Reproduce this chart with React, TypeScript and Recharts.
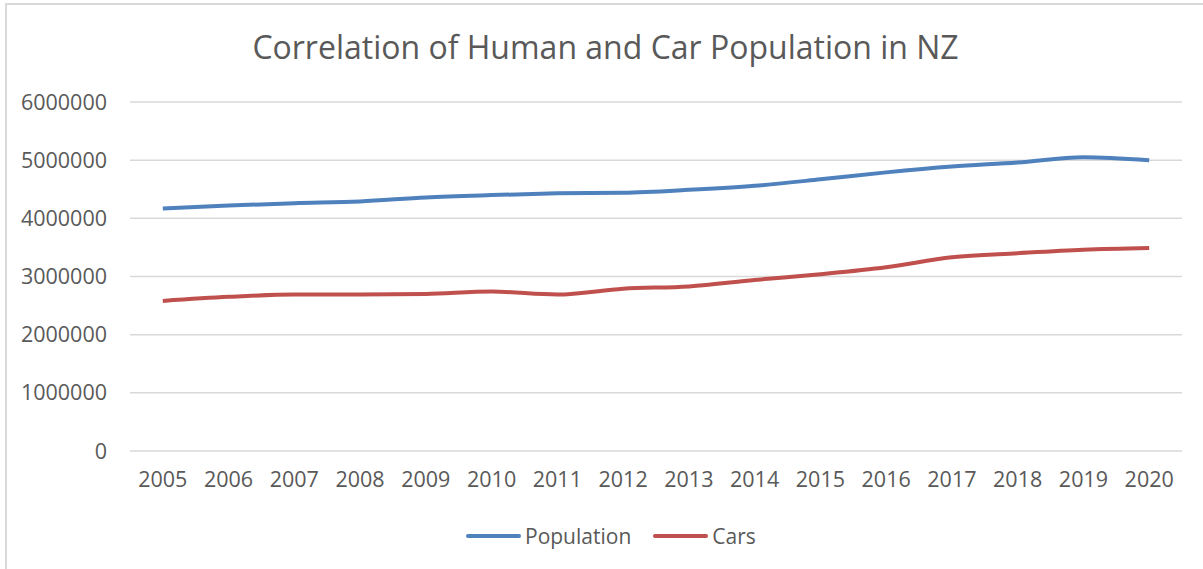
import React from "react";
import { LineChart, Line, XAxis, YAxis, CartesianGrid } from "recharts";

// Years on the category axis
const years = [
  "2005", "2006", "2007", "2008", "2009", "2010", "2011", "2012",
  "2013", "2014", "2015", "2016", "2017", "2018", "2019", "2020",
];

// Estimated resident population of New Zealand
const population = [
  4170000, 4220000, 4260000, 4290000, 4360000, 4400000, 4430000, 4440000,
  4490000, 4560000, 4670000, 4790000, 4890000, 4960000, 5050000, 5000000,
];

// Licensed light passenger vehicles
const cars = [
  2580000, 2650000, 2690000, 2690000, 2700000, 2740000, 2690000, 2790000,
  2830000, 2940000, 3040000, 3160000, 3330000, 3400000, 3460000, 3490000,
];

const yTicks = [0, 1000000, 2000000, 3000000, 4000000, 5000000, 6000000];

const series = [
  { key: "population", name: "Population", color: "#4F81BD" },
  { key: "cars", name: "Cars", color: "#C0504D" },
];

const data = years.map((year, i) => ({
  year,
  population: population[i],
  cars: cars[i],
}));

const FONT = "'Open Sans', sans-serif";
const TEXT = "#595959";

export default function App() {
  return (
    <div
      style={{
        position: "fixed",
        left: 0,
        top: 0,
        width: 1203,
        height: 569,
        background: "#ffffff",
        fontFamily: FONT,
        overflow: "hidden",
      }}
    >
      {/* chart frame */}
      <div
        style={{
          position: "absolute",
          left: 5,
          top: 3,
          width: 1300,
          height: 700,
          borderLeft: "2px solid #d9d9d9",
          borderTop: "2px solid #d9d9d9",
        }}
      />
      <div
        style={{
          position: "absolute",
          left: 0,
          width: 1203,
          top: 29,
          textAlign: "center",
          fontSize: 32,
          color: TEXT,
          lineHeight: "36px",
          paddingLeft: 8,
          boxSizing: "border-box",
          whiteSpace: "nowrap",
        }}
      >
        Correlation of Human and Car Population in NZ
      </div>
      <div style={{ position: "absolute", left: 0, top: 0 }}>
        <LineChart
          width={1203}
          height={569}
          data={data}
          margin={{ top: 102, right: 21, bottom: 58, left: 20 }}
        >
          <CartesianGrid vertical={false} stroke="#d9d9d9" strokeWidth={1.5} />
          <XAxis
            dataKey="year"
            height={60}
            axisLine={false}
            tickLine={false}
            tickSize={0}
            tickMargin={21}
            interval={0}
            padding={{ left: 32.8, right: 32.8 }}
            tick={{ fill: TEXT, fontSize: 21.5, fontFamily: FONT }}
          />
          <YAxis
            width={110}
            domain={[0, 6000000]}
            ticks={yTicks}
            interval={0}
            axisLine={false}
            tickLine={false}
            tickSize={0}
            tickMargin={23}
            tick={{ fill: TEXT, fontSize: 21.5, fontFamily: FONT }}
          />
          {series.map((s) => (
            <Line
              key={s.key}
              type="monotone"
              dataKey={s.key}
              name={s.name}
              stroke={s.color}
              strokeWidth={4}
              dot={false}
              isAnimationActive={false}
            />
          ))}
        </LineChart>
      </div>
      {/* legend */}
      <div
        style={{
          position: "absolute",
          left: 466,
          top: 522,
          display: "flex",
          alignItems: "center",
          fontSize: 21,
          color: TEXT,
          lineHeight: "28px",
        }}
      >
        {series.map((s, i) => (
          <div
            key={s.key}
            style={{
              display: "flex",
              alignItems: "center",
              marginLeft: i === 0 ? 0 : 22,
            }}
          >
            <div
              style={{
                width: 55,
                height: 4,
                borderRadius: 2,
                background: s.color,
                marginRight: 4,
              }}
            />
            <span>{s.name}</span>
          </div>
        ))}
      </div>
    </div>
  );
}
